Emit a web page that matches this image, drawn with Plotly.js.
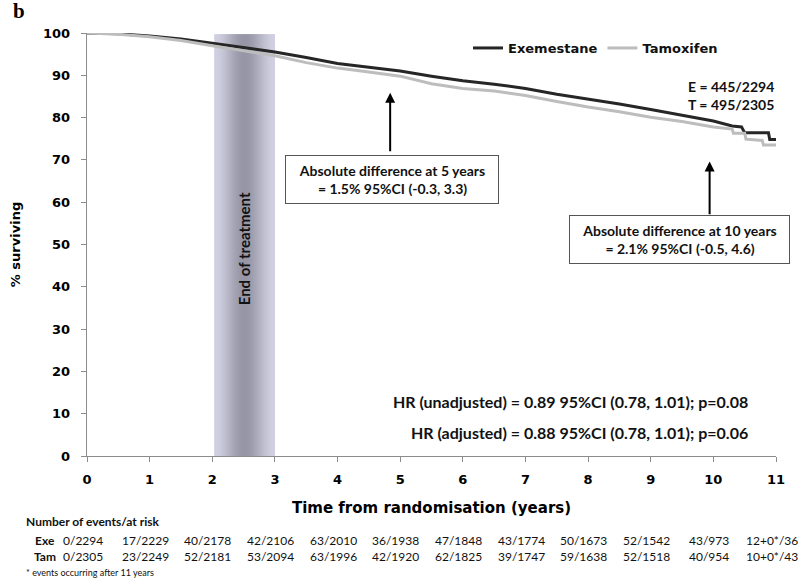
<!DOCTYPE html>
<html>
<head>
<meta charset="utf-8">
<script src="https://cdn.plot.ly/plotly-3.0.1.min.js"></script>
<style>
  html, body { margin: 0; padding: 0; background: #fff; }
  #chart { width: 800px; height: 580px; }
</style>
</head>
<body>
<div id="chart"></div>
<script>
// Kaplan-Meier curves
const exeTime = [0, 0.5, 1, 1.5, 2, 2.5, 3, 3.5, 4, 4.5, 5, 5.5, 6, 6.5, 7, 7.5, 8, 8.5, 9, 9.5, 10, 10.3, 10.45, 10.5, 10.88, 10.9, 11.0];
const exeSurv = [100, 99.8, 99.3, 98.6, 97.6, 96.6, 95.5, 94.2, 92.8, 91.9, 91.0, 89.8, 88.7, 87.9, 86.9, 85.5, 84.4, 83.2, 81.9, 80.6, 79.2, 78.0, 77.8, 76.4, 76.4, 74.8, 74.8];
const tamTime = [0, 0.5, 1, 1.5, 2, 2.5, 3, 3.5, 4, 4.5, 5, 5.5, 6, 6.5, 7, 7.5, 8, 8.5, 9, 9.5, 10, 10.3, 10.32, 10.5, 10.52, 10.78, 10.8, 11.0];
const tamSurv = [100, 99.7, 99.1, 98.2, 97.0, 95.8, 94.6, 93.0, 91.7, 90.8, 89.8, 88.0, 86.9, 86.3, 85.2, 83.8, 82.5, 81.4, 80.1, 79.1, 77.8, 77.3, 76.3, 76.3, 74.9, 74.6, 73.5, 73.5];

// number of events/at risk table
const riskYears = [0, 1, 2, 3, 4, 5, 6, 7, 8, 9, 10, 11];
const exeRisk = ["0/2294", "17/2229", "40/2178", "42/2106", "63/2010", "36/1938", "47/1848", "43/1774", "50/1673", "52/1542", "43/973", "12+0*/36"];
const tamRisk = ["0/2305", "23/2249", "52/2181", "53/2094", "63/1996", "42/1920", "62/1825", "39/1747", "59/1638", "52/1518", "40/954", "10+0*/43"];

const xTicks = [0, 1, 2, 3, 4, 5, 6, 7, 8, 9, 10, 11];
const yTicks = [0, 10, 20, 30, 40, 50, 60, 70, 80, 90, 100];
const xMax = 11;

const treatment = [2.03, 3.0];

const verdana = "DejaVu Sans";
const calibri = "Lato";

// shaded "end of treatment" band, darker in the middle
function band([a, b], n = 40) {
    const light = [208, 208, 226], dark = [150, 150, 166];
    const w = (b - a) / n;
    return Array.from({ length: n }, (_, i) => {
        const u = (i + 0.5) / n;
        const k = Math.pow(Math.sin(Math.PI * u), 2);
        const c = light.map((l, j) => Math.round(l + (dark[j] - l) * k));
        return {
            type: "rect", xref: "x", yref: "y", layer: "below",
            x0: a + w * i, x1: Math.min(b, a + w * (i + 2)),
            y0: 0, y1: 99.7,
            fillcolor: `rgb(${c.join(",")})`, line: { width: 0 }
        };
    });
}

function riskRow(label, values, y) {
    const cells = values.map((v, i) => ({
        xref: "paper", yref: "paper", x: (riskYears[i] - 0.07) / xMax, y, text: v,
        showarrow: false, xanchor: "center", yanchor: "middle",
        font: { family: calibri, size: 12, color: "#111" }
    }));
    return [{
        xref: "paper", yref: "paper", x: -0.061, y, text: `<b>${label}</b>`,
        showarrow: false, xanchor: "center", yanchor: "middle",
        font: { family: calibri, size: 12, color: "#111" }
    }, ...cells];
}

function box(x, y, width, text) {
    return {
        xref: "x", yref: "y", x, y, text, width, showarrow: false,
        align: "center", bgcolor: "#fff", bordercolor: "#555", borderwidth: 1, borderpad: 6,
        font: { family: calibri, size: 14, color: "#111" }
    };
}

function arrow(x, head, tail) {
    return {
        xref: "x", yref: "y", axref: "x", ayref: "y", x, y: head, ax: x, ay: tail,
        text: "", showarrow: true, arrowhead: 2, arrowsize: 1, arrowwidth: 2, arrowcolor: "#000"
    };
}

const traces = [
    { x: exeTime, y: exeSurv, name: "Exemestane", mode: "lines", line: { color: "#262626", width: 3 } },
    { x: tamTime, y: tamSurv, name: "Tamoxifen", mode: "lines", line: { color: "#bdbdbd", width: 3 } }
];

const annotations = [
    { xref: "paper", yref: "paper", x: -0.11, y: 1.085, text: "<b>b</b>", showarrow: false, xanchor: "left",
      font: { family: "Liberation Serif", size: 21, color: "#000" } },
    { xref: "x", yref: "y", x: 2.5, y: 49, text: "<b>End of treatment</b>", textangle: -90, showarrow: false,
      font: { family: calibri, size: 15, color: "#111" } },
    { xref: "x", yref: "y", x: 9.56, y: 85.2, text: "<b>E = 445/2294<br>T = 495/2305</b>", showarrow: false,
      xanchor: "left", align: "left", font: { family: calibri, size: 14, color: "#111" } },
    arrow(4.84, 85.9, 71.7),
    box(4.875, 65.3, 200, "<b>Absolute difference at 5 years<br>= 1.5% 95%CI (-0.3, 3.3)</b>"),
    arrow(9.94, 69.6, 56.8),
    box(9.455, 51.1, 207, "<b>Absolute difference at 10 years<br>= 2.1% 95%CI (-0.5, 4.6)</b>"),
    { xref: "x", yref: "y", x: 10.59, y: 13.0, text: "<b>HR (unadjusted) = 0.89 95%CI (0.78, 1.01); p=0.08</b>",
      showarrow: false, xanchor: "right", font: { family: calibri, size: 16, color: "#111" } },
    { xref: "x", yref: "y", x: 10.59, y: 5.5, text: "<b>HR (adjusted) = 0.88 95%CI (0.78, 1.01); p=0.06</b>",
      showarrow: false, xanchor: "right", font: { family: calibri, size: 16, color: "#111" } },
    { xref: "paper", yref: "paper", x: -0.091, y: -0.156, text: "<b>Number of events/at risk</b>", showarrow: false,
      xanchor: "left", yanchor: "middle", font: { family: calibri, size: 12, color: "#111" } },
    ...riskRow("Exe", exeRisk, -0.2),
    ...riskRow("Tam", tamRisk, -0.238),
    { xref: "paper", yref: "paper", x: -0.091, y: -0.275, text: "* events occurring after 11 years", showarrow: false,
      xanchor: "left", yanchor: "middle", font: { family: calibri, size: 9, color: "#111" } }
];

const axis = {
    showgrid: false, zeroline: false, showline: true, linecolor: "#8c8c8c", linewidth: 1.3,
    ticks: "outside", ticklen: 5, tickcolor: "#8c8c8c",
    tickfont: { family: verdana, size: 13, color: "#000", weight: "bold" }
};

const layout = {
    width: 800, height: 580,
    margin: { l: 87, r: 24, t: 33, b: 124 },
    paper_bgcolor: "#fff", plot_bgcolor: "#fff",
    showlegend: true,
    legend: {
        orientation: "h", x: 0.553, y: 1.0, xanchor: "left", yanchor: "top",
        font: { family: verdana, size: 13, color: "#111", weight: "bold" },
        bgcolor: "rgba(0,0,0,0)", itemwidth: 30
    },
    xaxis: {
        ...axis, range: [0, xMax], tickvals: xTicks, ticklabelstandoff: 6,
        title: { text: "<b>Time from randomisation (years)</b>", standoff: 16,
                 font: { family: verdana, size: 15, color: "#000" } }
    },
    yaxis: {
        ...axis, range: [0, 100], tickvals: yTicks, ticklabelstandoff: 8,
        title: { text: "<b>% surviving</b>", standoff: 19,
                 font: { family: verdana, size: 13, color: "#000" } }
    },
    shapes: band(treatment),
    annotations
};

Plotly.newPlot("chart", traces, layout, { staticPlot: true, displayModeBar: false });
</script>
</body>
</html>
